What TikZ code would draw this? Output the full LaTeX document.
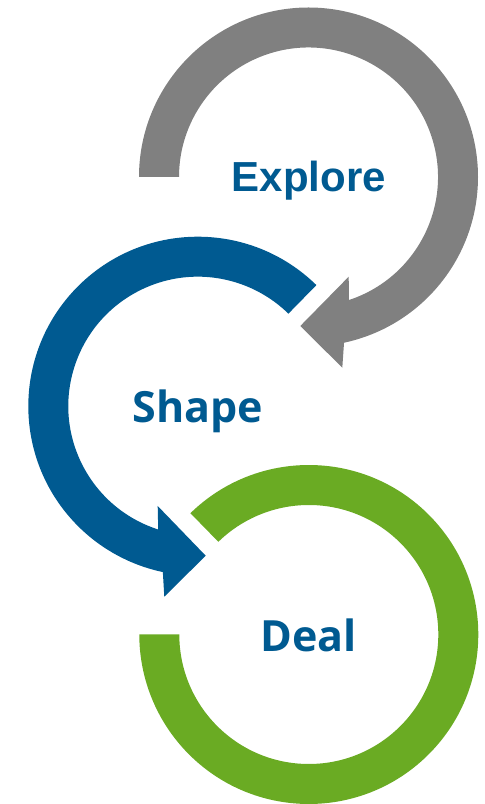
\documentclass[tikz,border=0pt]{standalone}
\usepackage{fontspec}
\usetikzlibrary{calc}
\newfontfamily\arialbold{Liberation Sans}[BoldFont=* Bold]
\newfontfamily\opensans{Open Sans}
\definecolor{cgray}{RGB}{128,128,128}
\definecolor{cblue}{RGB}{0,90,145}
\definecolor{cgreen}{RGB}{106,171,35}
\begin{document}
\begin{tikzpicture}[x=1pt,y=1pt,
  lbl/.style={text=cblue, inner sep=0pt, anchor=base}]
\useasboundingbox (0,0) rectangle (485,804);
% gray arc (Explore), centre (308.5,627)
\fill[cgray] (308.5,627) ++(180:169.5pt)
  arc[start angle=180, end angle=-77.9, radius=169.5pt]
  -- (342.3,436.3) -- (300.3,478) -- (348.7,527.3)
  -- ($(308.5,627)+(-71.8:129.5pt)$)
  arc[start angle=-71.8, end angle=180, radius=129.5pt] -- cycle;
% blue arc (Shape), centre (197.8,397.8)
\fill[cblue] (197.8,397.8) ++(45.6:169.5pt)
  arc[start angle=45.6, end angle=258.1, radius=169.5pt]
  -- (164.3,207.3) -- (205.7,248.3) -- (157.7,298)
  -- ($(197.8,397.8)+(252.2:129.5pt)$)
  arc[start angle=252.2, end angle=45.6, radius=129.5pt] -- cycle;
% green ring (Deal), centre (308.8,169.5)
\fill[cgreen] (308.8,169.5) ++(134.3:169.5pt)
  arc[start angle=134.3, end angle=-180, radius=169.5pt]
  -- ++(40pt,0)
  arc[start angle=-180, end angle=134.3, radius=129.5pt] -- cycle;
\node[lbl, font=\arialbold\bfseries\fontsize{42}{42}\selectfont] (explore) at (308.8,612.3) {Explore};
\node[lbl, font=\opensans\bfseries\fontsize{43}{43}\selectfont] (shape) at (198,381.7) {Shape};
\node[lbl, font=\opensans\bfseries\fontsize{43}{43}\selectfont] (deal) at (308.8,152) {Deal};
\end{tikzpicture}
\end{document}
